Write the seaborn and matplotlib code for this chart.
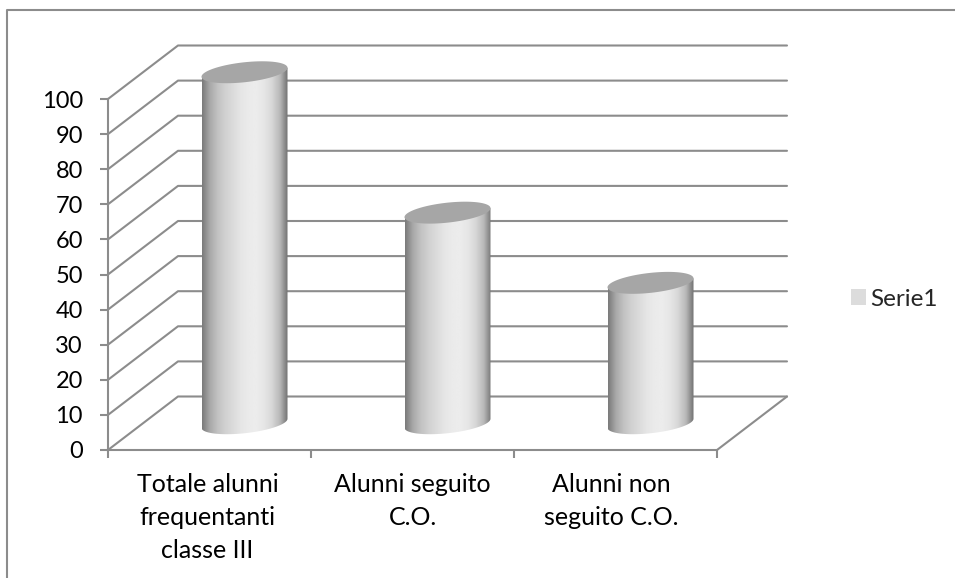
import matplotlib
matplotlib.use("Agg")
import matplotlib.pyplot as plt
from matplotlib.lines import Line2D
from matplotlib.patches import Patch, Polygon
import numpy as np
import pandas as pd
import seaborn as sns

sns.set_theme(style="white")
plt.rcParams['font.family'] = ['Lato', 'DejaVu Sans']

categories = ["Totale alunni\nfrequentanti\nclasse III", "Alunni seguito\nC.O.", "Alunni non\nseguito C.O."]
values = [100, 60, 40]
y_ticks = list(range(0, 101, 10))
series_name = "Serie1"

W, H = 955, 578
LINE = "#8c8c8c"
TOP = "#a6a6a6"
# 3d look: how far the back wall sits from the front plane, in data units
DEPTH_X = 70 / 203
DEPTH_Y = 53.5 / 3.51
# tilt and height of the cylinder ellipses, in data units
TILT = 4.5 / 3.51
ELL = 10 / 3.51
# shading across the cylinder, left to right
SHADE = [0.48, 0.66, 0.76, 0.82, 0.86, 0.90, 0.92, 0.925, 0.90, 0.84, 0.72, 0.44]

fig = plt.figure(figsize=(W / 100, H / 100), dpi=100, facecolor="white")
ax = fig.add_axes([108 / W, (H - 450) / H, (717 - 108) / W, 351 / H])

df = pd.DataFrame({"cat": categories, "val": values})
sns.barplot(data=df, x="cat", y="val", width=86 / 203, ax=ax)
ax.set_xlim(-0.5, 2.5)
ax.set_ylim(0, 100)

# walls and grid, all hanging off the y scale
x0, x1 = ax.get_xlim()
for t in y_ticks:
    ax.add_line(Line2D([x0, x0 + DEPTH_X, x1 + DEPTH_X], [t, t + DEPTH_Y, t + DEPTH_Y],
                       color=LINE, lw=1.5, clip_on=False, zorder=1))
ax.add_line(Line2D([x1, x1 + DEPTH_X], [0, DEPTH_Y], color=LINE, lw=1.5, clip_on=False, zorder=1))

# cylinders built from the bars seaborn laid out
theta = np.linspace(0, 2 * np.pi, 200)
grad = np.interp(np.linspace(0, 1, 256), np.linspace(0, 1, len(SHADE)), SHADE).reshape(1, -1)
for bar in list(ax.patches):
    bar.set_visible(False)
    cx = bar.get_x() + bar.get_width() / 2 + DEPTH_X / 2
    a = bar.get_width() / 2
    base = DEPTH_Y / 2
    v = bar.get_height()
    ex = a * np.cos(theta)
    ey = TILT * np.cos(theta) + ELL * np.sin(theta)
    lower = theta > np.pi
    order = np.argsort(ex[lower])
    side = np.vstack([
        np.column_stack([cx + ex[lower][order], base + ey[lower][order]]),
        [[cx + a, base + v + TILT], [cx - a, base + v - TILT]],
    ])
    im = ax.imshow(grad, cmap="gray", vmin=0, vmax=1, aspect="auto", zorder=3,
                   extent=[cx - a, cx + a, 0, base + v + 10])
    clip = Polygon(side, closed=True, transform=ax.transData, fc="none", ec="none")
    ax.add_patch(clip)
    clip.set_clip_on(False)
    im.set_clip_box(fig.bbox)
    im.set_clip_path(clip)
    ax.add_patch(Polygon(np.column_stack([cx + ex, base + v + ey]), closed=True,
                         fc=TOP, ec="none", zorder=4, clip_on=False))
ax.set_xlim(x0, x1)
ax.set_ylim(0, 100)

ax.set_yticks(y_ticks)
ax.set_xticks([-0.5, 0.5, 1.5, 2.5], labels=[])
# labels sit a touch left of the slot centres in the original
ax.set_xticks([-0.01, 1, 1.98], labels=categories, minor=True)
ax.set_xlabel("")
ax.set_ylabel("")
ax.tick_params(axis="both", which="major", length=5.5, width=1.5, color=LINE, left=True, bottom=True,
               labelsize=17, labelcolor="black")
ax.tick_params(axis="x", which="minor", length=0, labelsize=18, labelcolor="black", pad=16.5)
ax.tick_params(axis="y", pad=12.5)
for lab in ax.get_xticklabels(minor=True):
    lab.set_linespacing(1.54)
for side_name, sp in ax.spines.items():
    sp.set_visible(side_name in ("left", "bottom"))
    sp.set_color(LINE)
    sp.set_linewidth(1.5)
    sp.set_zorder(2)

leg = fig.legend(handles=[Patch(fc="#dcdcdc", ec="none", label=series_name)], frameon=False, fontsize=17.5,
                 loc="center left", bbox_to_anchor=(851 / W, 1 - 299 / H), handlelength=0.62, handleheight=0.62,
                 handletextpad=0.18, borderpad=0, borderaxespad=0)

# outer chart frame, only left and top show
fig.add_artist(Line2D([6.5 / W, 6.5 / W, 1], [0, 1 - 9.5 / H, 1 - 9.5 / H],
                      color=LINE, lw=1.5, transform=fig.transFigure))

fig.savefig("out.png", dpi=100)
